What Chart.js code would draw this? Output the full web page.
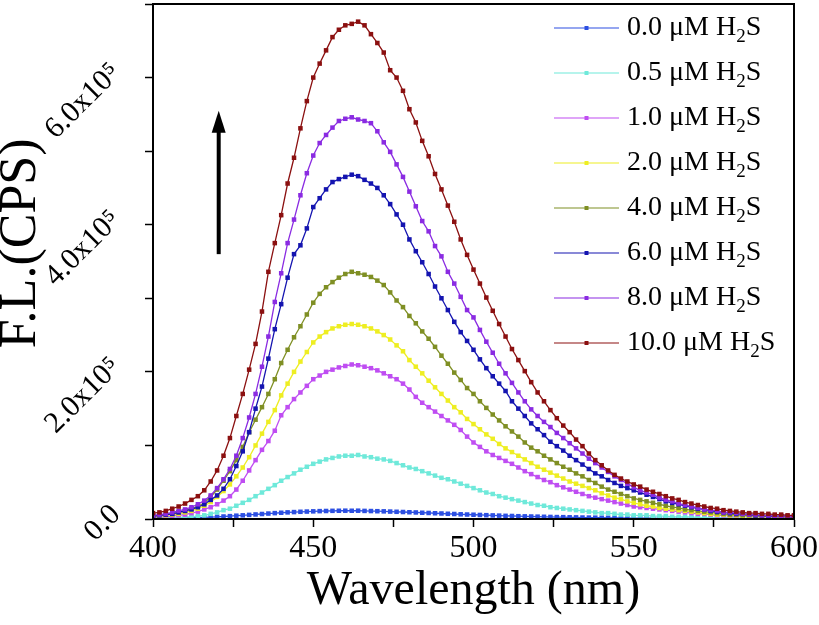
<!DOCTYPE html>
<html>
<head>
<meta charset="utf-8">
<script src="https://cdn.jsdelivr.net/npm/chart.js@4.4.1/dist/chart.umd.min.js"></script>
<style>
  html, body { margin: 0; padding: 0; background: #fff; }
  #wrap { width: 819px; height: 625px; position: relative; }
</style>
</head>
<body>
<div id="wrap"><canvas id="spectra"></canvas></div>
<script>
// Fluorescence spectra of the probe with H2S
// intensities in units of 10^3 CPS, one value every 2 nm from 400 to 600 nm
const wavelengths = Array.from({ length: 101 }, (_, i) => 400 + 2 * i);
const concentrations = [0.0, 0.5, 1.0, 2.0, 4.0, 6.0, 8.0, 10.0];
const seriesColors = ['#2c4fe2', '#6fe9da', '#bf4df2', '#eeee22', '#7f8f24', '#1414b0', '#8a2be2', '#8b1010'];

const fl_0_0 = [
    0.5, 0.6, 0.7, 0.8, 1.0, 1.2, 1.5, 1.8, 2.1, 2.5,
    3.0, 3.4, 3.9, 4.5, 5.0, 5.6, 6.2, 6.8, 7.4, 8.0,
    8.5, 9.0, 9.4, 9.8, 10.1, 10.4, 10.7, 10.9, 11.1, 11.2,
    11.3, 11.2, 11.3, 11.0, 10.8, 10.6, 10.4, 10.1, 9.8, 9.5,
    9.2, 8.9, 8.5, 8.2, 7.8, 7.5, 7.1, 6.8, 6.4, 6.1,
    5.8, 5.5, 5.2, 4.9, 4.6, 4.3, 4.1, 3.8, 3.6, 3.4,
    3.2, 3.0, 2.8, 2.6, 2.5, 2.3, 2.2, 2.0, 1.9, 1.8,
    1.7, 1.6, 1.5, 1.4, 1.3, 1.2, 1.1, 1.0, 1.0, 0.9,
    0.9, 0.8, 0.8, 0.7, 0.7, 0.6, 0.6, 0.6, 0.5, 0.5,
    0.5, 0.5, 0.4, 0.4, 0.4, 0.4, 0.4, 0.3, 0.3, 0.3,
    0.3
];
const fl_0_5 = [
    1, 1, 2, 2, 2, 3, 3, 4, 5, 7,
    9, 12, 14, 18, 22, 26, 31, 36, 41, 46,
    52, 57, 62, 67, 71, 75, 78, 81, 83, 85,
    86, 86, 87, 85, 84, 82, 81, 79, 76, 73,
    70, 68, 65, 62, 59, 56, 54, 51, 48, 45,
    42, 39, 36, 34, 31, 29, 27, 25, 23, 21,
    19, 18, 16, 15, 14, 13, 12, 11, 10, 9,
    8, 8, 7, 6, 6, 5, 5, 5, 4, 4,
    4, 3, 3, 3, 3, 2, 2, 2, 2, 2,
    2, 2, 1, 1, 1, 1, 1, 1, 1, 1,
    1
];
const fl_1_0 = [
    2, 3, 3, 4, 5, 6, 8, 10, 13, 16,
    20, 25, 31, 40, 52, 66, 80, 94, 106, 120,
    141, 152, 163, 172, 181, 190, 195, 200, 203, 206,
    208, 210, 209, 207, 205, 202, 198, 194, 190, 184,
    176, 166, 158, 152, 146, 140, 134, 128, 121, 112,
    104, 98, 92, 87, 83, 79, 75, 70, 65, 61,
    57, 53, 50, 46, 43, 40, 37, 34, 31, 29,
    27, 25, 23, 21, 19, 17, 16, 15, 14, 13,
    12, 11, 10, 9, 8, 7, 7, 6, 5, 5,
    4, 4, 4, 3, 3, 3, 3, 2, 2, 2,
    2
];
const fl_2_0 = [
    3, 4, 5, 6, 7, 9, 11, 14, 18, 23,
    30, 38, 47, 58, 70, 84, 100, 116, 132, 148,
    168, 184, 200, 214, 227, 240, 248, 254, 259, 262,
    264, 265, 264, 262, 259, 255, 250, 244, 236, 228,
    216, 207, 198, 188, 179, 170, 161, 152, 145, 136,
    129, 122, 115, 109, 102, 96, 91, 86, 81, 76,
    71, 67, 63, 59, 55, 51, 48, 45, 42, 39,
    35, 32, 29, 27, 24, 22, 20, 18, 17, 15,
    14, 13, 12, 11, 10, 9, 8, 7, 6, 6,
    5, 5, 4, 4, 4, 3, 3, 3, 3, 2,
    2
];
const fl_4_0 = [
    4, 5, 6, 7, 9, 11, 14, 17, 22, 30,
    40, 52, 65, 80, 98, 118, 135, 152, 170, 190,
    212, 230, 247, 262, 278, 294, 306, 315, 322, 328,
    333, 336, 334, 332, 329, 324, 318, 308, 297, 288,
    276, 266, 255, 245, 234, 222, 211, 199, 189, 178,
    170, 160, 151, 142, 134, 126, 119, 112, 104, 97,
    92, 86, 81, 76, 71, 67, 62, 58, 53, 49,
    44, 40, 37, 34, 31, 28, 26, 24, 22, 20,
    18, 16, 15, 13, 12, 11, 10, 9, 8, 7,
    6, 6, 5, 5, 4, 4, 4, 3, 3, 3,
    3
];
const fl_6_0 = [
    4, 5, 6, 7, 9, 11, 13, 16, 20, 26,
    32, 41, 54, 72, 92, 118, 150, 180, 218, 258,
    292, 328, 360, 372, 395, 424, 436, 448, 458, 462,
    465, 468, 466, 461, 456, 450, 440, 428, 414, 400,
    380, 364, 349, 333, 316, 300, 284, 268, 254, 242,
    230, 217, 205, 194, 184, 174, 160, 150, 140, 130,
    122, 114, 105, 99, 93, 86, 80, 74, 68, 62,
    58, 53, 49, 45, 42, 39, 36, 33, 30, 27,
    24, 22, 20, 18, 16, 14, 13, 11, 10, 9,
    8, 7, 7, 6, 5, 5, 4, 4, 4, 3,
    3
];
const fl_8_0 = [
    5, 6, 7, 9, 11, 13, 16, 20, 25, 32,
    42, 54, 68, 86, 110, 138, 170, 207, 248, 295,
    334, 375, 407, 440, 470, 494, 511, 522, 532, 541,
    544, 546, 543, 541, 538, 527, 512, 499, 482, 465,
    445, 425, 405, 391, 371, 357, 336, 320, 302, 284,
    274, 257, 241, 226, 211, 198, 185, 172, 160, 149,
    140, 132, 125, 117, 110, 103, 96, 89, 82, 76,
    70, 64, 58, 53, 48, 43, 39, 36, 33, 29,
    26, 24, 21, 19, 17, 15, 13, 12, 11, 9,
    9, 8, 7, 6, 6, 5, 5, 4, 4, 4,
    3
];
const fl_10_0 = [
    8, 9, 11, 14, 17, 21, 26, 31, 39, 51,
    66, 86, 110, 140, 170, 203, 238, 282, 336, 375,
    413, 456, 491, 531, 568, 600, 619, 637, 655, 665,
    671, 673, 676, 671, 659, 647, 634, 610, 600, 582,
    557, 539, 514, 493, 469, 448, 426, 404, 380, 359,
    339, 320, 301, 283, 265, 248, 231, 216, 201, 186,
    172, 160, 148, 137, 127, 118, 108, 99, 89, 80,
    73, 66, 60, 55, 51, 47, 44, 40, 37, 34,
    31, 28, 26, 23, 21, 19, 17, 15, 14, 12,
    11, 10, 9, 8, 8, 7, 7, 6, 6, 5,
    5
];
const allSeries = [fl_0_0, fl_0_5, fl_1_0, fl_2_0, fl_4_0, fl_6_0, fl_8_0, fl_10_0];

// arrow drawn in data coordinates (wavelength, intensity)
const arrowAt = { x: 420.5, from: 360, to: 555 };

const serif = "'Liberation Serif', 'Times New Roman', serif";

// Legend drawn inside the plot, upper right
const insideLegend = {
    id: 'insideLegend',
    afterDraw(chart) {
        const { ctx, chartArea } = chart;
        ctx.save();
        chart.data.datasets.forEach((ds, i) => {
            const y = chartArea.top + 24 + i * 45;
            const x0 = chartArea.right - 240;
            const x1 = chartArea.right - 175;
            ctx.strokeStyle = ds.borderColor;
            ctx.lineWidth = 1.2;
            ctx.beginPath();
            ctx.moveTo(x0, y);
            ctx.lineTo(x1, y);
            ctx.stroke();
            ctx.fillStyle = ds.borderColor;
            ctx.fillRect((x0 + x1) / 2 - 2, y - 2, 4, 4);

            const [pre, post] = ds.label.split('₂');
            let tx = chartArea.right - 167;
            ctx.fillStyle = '#000';
            ctx.textAlign = 'left';
            ctx.textBaseline = 'middle';
            ctx.font = '28px ' + serif;
            ctx.fillText(pre, tx, y);
            tx += ctx.measureText(pre).width;
            ctx.font = '19px ' + serif;
            ctx.fillText('2', tx, y + 9);
            tx += ctx.measureText('2').width;
            ctx.font = '28px ' + serif;
            ctx.fillText(post, tx, y);
        });
        ctx.restore();
    }
};

// Frame on top and right, plus the arrow
const frameAndArrow = {
    id: 'frameAndArrow',
    afterDraw(chart) {
        const { ctx, chartArea, scales } = chart;
        ctx.save();
        ctx.strokeStyle = '#000';
        ctx.lineWidth = 2;
        ctx.strokeRect(chartArea.left, chartArea.top, chartArea.right - chartArea.left, chartArea.bottom - chartArea.top);

        const ax = scales.x.getPixelForValue(arrowAt.x);
        const yTail = scales.y.getPixelForValue(arrowAt.from);
        const yTip = scales.y.getPixelForValue(arrowAt.to);
        ctx.lineWidth = 4;
        ctx.beginPath();
        ctx.moveTo(ax, yTail);
        ctx.lineTo(ax, yTip + 18);
        ctx.stroke();
        ctx.fillStyle = '#000';
        ctx.beginPath();
        ctx.moveTo(ax, yTip);
        ctx.lineTo(ax - 7, yTip + 22);
        ctx.lineTo(ax + 7, yTip + 22);
        ctx.closePath();
        ctx.fill();
        ctx.restore();
    }
};

const datasets = allSeries.map((values, i) => ({
    label: concentrations[i].toFixed(1) + ' μM H₂S',
    data: wavelengths.map((w, j) => ({ x: w, y: values[j] })),
    borderColor: seriesColors[i],
    backgroundColor: seriesColors[i],
    order: allSeries.length - 1 - i
}));

new Chart(document.getElementById('spectra'), {
    type: 'line',
    data: { datasets },
    options: {
        responsive: true,
        maintainAspectRatio: false,
        animation: false,
        layout: { padding: { top: 4, left: 0, right: 0, bottom: 0 } },
        elements: {
            line: { borderWidth: 1.3, tension: 0 },
            point: { pointStyle: 'rect', radius: 3.2, borderWidth: 0 }
        },
        plugins: {
            legend: { display: false },
            tooltip: { enabled: false }
        },
        scales: {
            x: {
                type: 'linear',
                min: 400,
                max: 600,
                ticks: {
                    stepSize: 25,
                    autoSkip: false,
                    maxRotation: 0,
                    padding: 2,
                    color: '#000',
                    font: { family: serif, size: 32 },
                    callback: (v) => (v % 50 === 0 ? String(v) : '')
                },
                grid: { drawOnChartArea: false, tickLength: 8, tickColor: '#000', tickWidth: 1.5 },
                border: { display: true, color: '#000', width: 2 },
                title: {
                    display: true,
                    text: 'Wavelength (nm)',
                    color: '#000',
                    font: { family: serif, size: 48, lineHeight: 1 },
                    padding: { top: 0, bottom: 10 }
                },
                afterFit: (s) => { s.height = 106; s.paddingRight = 25; }
            },
            y: {
                min: 0,
                max: 700,
                ticks: {
                    stepSize: 100,
                    autoSkip: false,
                    minRotation: 45,
                    maxRotation: 45,
                    crossAlign: 'near',
                    padding: 29,
                    labelOffset: -9,
                    color: '#000',
                    font: { family: serif, size: 30 },
                    callback: (v) => {
                        if (v === 0) return '0.0';
                        return v % 200 === 0 ? (v / 100).toFixed(1) + 'x10⁵' : '';
                    }
                },
                grid: { drawOnChartArea: false, tickLength: 8, tickColor: '#000', tickWidth: 1.5 },
                border: { display: true, color: '#000', width: 2 },
                title: {
                    display: true,
                    text: '\u2002\u2009F.L.(CPS)',
                    color: '#000',
                    font: { family: serif, size: 52, lineHeight: 0.84 },
                    padding: 0
                },
                afterFit: (s) => { s.width = 153; s.paddingTop = 0; s.paddingBottom = 0; }
            }
        }
    },
    plugins: [insideLegend, frameAndArrow]
});
</script>
</body>
</html>
